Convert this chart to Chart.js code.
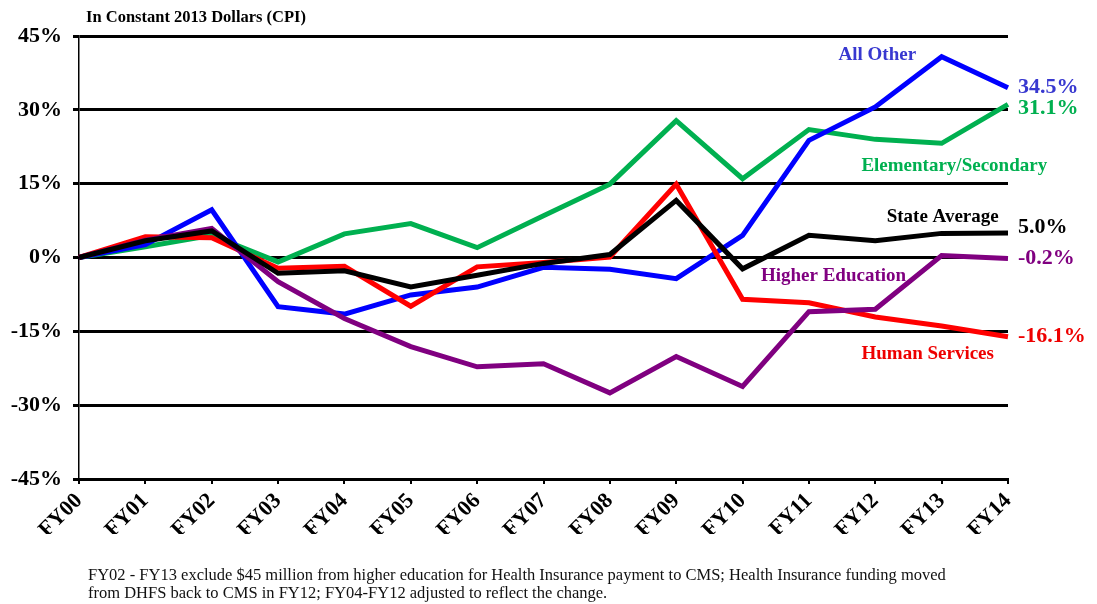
<!DOCTYPE html>
<html>
<head>
<meta charset="utf-8">
<script src="https://cdn.jsdelivr.net/npm/chart.js@4/dist/chart.umd.min.js"></script>
<style>
  html, body { margin: 0; padding: 0; background: #fff; }
  #wrap { width: 1097px; height: 604px; position: relative; }
</style>
</head>
<body>
<div id="wrap"><canvas id="growthChart"></canvas></div>
<script>
const years = ["FY00", "FY01", "FY02", "FY03", "FY04", "FY05", "FY06", "FY07",
               "FY08", "FY09", "FY10", "FY11", "FY12", "FY13", "FY14"];

// % change since FY00, constant 2013 dollars
const stateAverage = [0, 3.4, 5.4, -3.2, -2.7, -6.0, -3.6, -1.2, 0.6, 11.6, -2.3, 4.5, 3.4, 4.9, 5.0];
const higherEducation = [0, 3.5, 5.9, -4.9, -12.4, -18.1, -22.2, -21.6, -27.5, -20.1, -26.2, -11.0, -10.5, 0.4, -0.2];
const humanServices = [0, 4.2, 4.0, -2.2, -1.8, -9.9, -1.9, -1.0, 0.1, 14.9, -8.5, -9.2, -12.1, -13.9, -16.1];
const allOther = [0, 2.6, 9.7, -10.0, -11.5, -7.6, -6.0, -2.0, -2.4, -4.3, 4.5, 23.8, 30.6, 40.8, 34.5];
const elemSecondary = [0, 2.2, 4.5, -0.9, 4.8, 6.9, 2.0, 8.5, 14.9, 27.8, 16.0, 26.0, 24.0, 23.2, 31.1];

const yTicks = [-45, -30, -15, 0, 15, 30, 45];

const titleText = "In Constant 2013 Dollars (CPI)";
const footnote = [
    "FY02 - FY13 exclude $45 million from higher education for Health Insurance payment to CMS; Health Insurance funding moved",
    "from DHFS back to CMS in FY12; FY04-FY12 adjusted to reflect the change."
];

const serif = '"Liberation Serif", "Times New Roman", serif';

// first dataset is drawn on top
const series = [
    { name: "State Average", data: stateAverage, line: "#000000", text: "#000000", at: [13.86, 8.3], align: "right", dy: -6 },
    { name: "Higher Education", data: higherEducation, line: "#800080", text: "#800080", at: [11.37, -3.8], align: "center", dy: 0 },
    { name: "Human Services", data: humanServices, line: "#ff0000", text: "#ee0000", at: [12.79, -19.6], align: "center", dy: 0 },
    { name: "All Other", data: allOther, line: "#0000ff", text: "#3838d0", at: [12.03, 41.1], align: "center", dy: 0 },
    { name: "Elementary/Secondary", data: elemSecondary, line: "#00b050", text: "#00b050", at: [13.19, 18.6], align: "center", dy: 4 }
];

const labelPlugin = {
    id: "labels",
    afterDraw(chart) {
        const { ctx, scales: { x, y } } = chart;
        ctx.save();
        ctx.textBaseline = "middle";

        ctx.fillStyle = "#000";
        ctx.textAlign = "left";
        ctx.font = "bold 16.5px " + serif;
        ctx.fillText(titleText, 86, 18);

        series.forEach(s => {
            // series name
            ctx.fillStyle = s.text;
            ctx.font = "bold 19px " + serif;
            ctx.textAlign = s.align;
            ctx.fillText(s.name, x.getPixelForValue(s.at[0]), y.getPixelForValue(s.at[1]));

            // end value
            const last = s.data[s.data.length - 1];
            ctx.font = "bold 22px " + serif;
            ctx.textAlign = "left";
            ctx.fillText(last.toFixed(1) + "%", x.getPixelForValue(s.data.length - 1) + 10,
                         y.getPixelForValue(last) + s.dy);
        });

        ctx.fillStyle = "#111";
        ctx.textAlign = "left";
        ctx.font = "16.5px " + serif;
        footnote.forEach((line, i) => ctx.fillText(line, 88, 576 + i * 18));
        ctx.restore();
    }
};

const ctx = document.getElementById("growthChart").getContext("2d");
const growthChart = new Chart(ctx, {
    type: "line",
    data: {
        labels: years,
        datasets: series.map(s => ({
            label: s.name,
            data: s.data,
            borderColor: s.line,
            backgroundColor: s.line,
            borderWidth: 5,
            pointRadius: 0,
            tension: 0
        }))
    },
    options: {
        responsive: true,
        maintainAspectRatio: false,
        animation: false,
        layout: { padding: { top: 36, right: 89, bottom: 70, left: 0 } },
        plugins: {
            legend: { display: false },
            tooltip: { enabled: false }
        },
        scales: {
            x: {
                offset: false,
                afterFit: s => { s.height = 55; },
                grid: { drawOnChartArea: false, drawTicks: true, tickLength: 5, color: "#000", lineWidth: 2 },
                border: { display: true, color: "#000", width: 3 },
                ticks: {
                    color: "#000",
                    font: { family: serif, size: 22, weight: "bold" },
                    maxRotation: 45,
                    minRotation: 45,
                    padding: 4,
                    autoSkip: false
                }
            },
            y: {
                min: -45,
                max: 45,
                afterFit: s => { s.width = 79; },
                afterBuildTicks: s => { s.ticks = yTicks.map(v => ({ value: v })); },
                grid: { color: "#000", lineWidth: 3, tickLength: 6 },
                border: { display: true, color: "#000", width: 1.5 },
                ticks: {
                    color: "#000",
                    font: { family: serif, size: 22, weight: "bold" },
                    padding: 11,
                    callback: v => v + "%"
                }
            }
        }
    },
    plugins: [labelPlugin]
});
</script>
</body>
</html>
